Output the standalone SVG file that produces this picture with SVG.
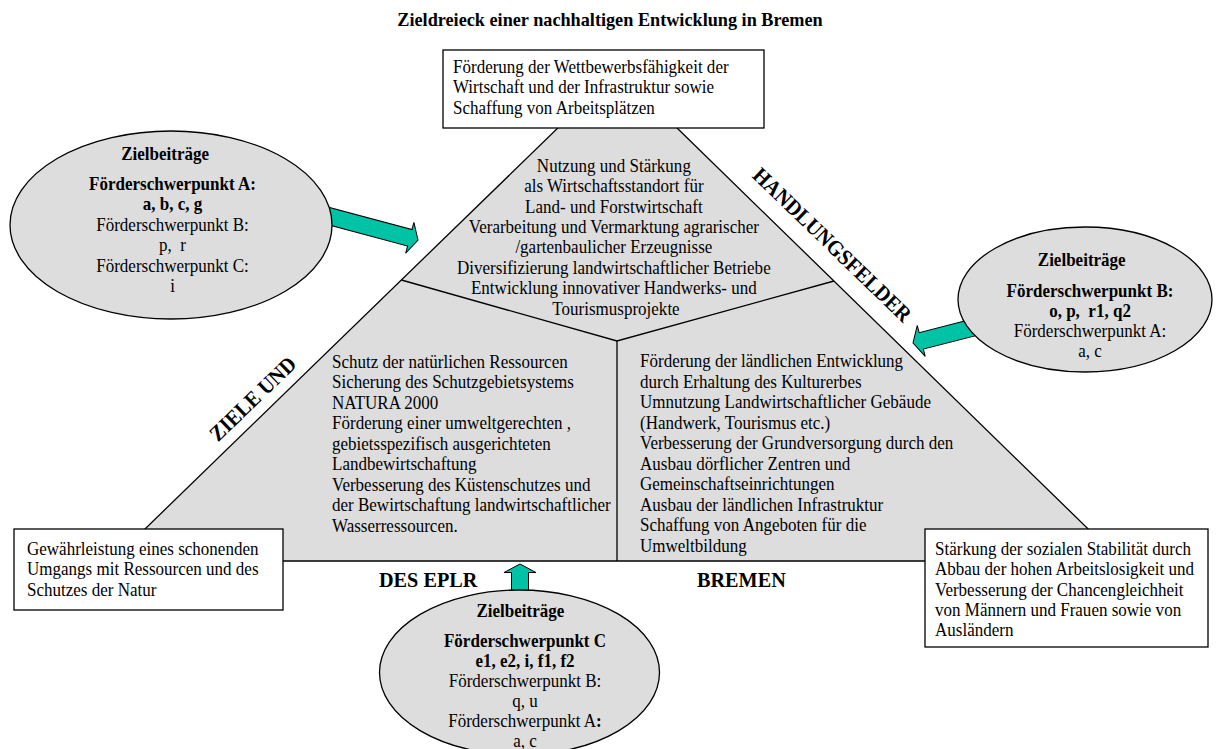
<svg xmlns="http://www.w3.org/2000/svg" width="1216" height="749" viewBox="0 0 1216 749">
  <style>
    .t { font-family: "Liberation Serif", "Times New Roman", serif; font-size: 18.5px; fill: #000; }
    .b { font-weight: bold; }
    .c { text-anchor: middle; }
    .lbl { font-family: "Liberation Serif", "Times New Roman", serif; font-size: 22px; font-weight: bold; fill: #000; }
    .ttl { font-family: "Liberation Serif", "Times New Roman", serif; font-size: 19.8px; font-weight: bold; fill: #000; text-anchor: middle; }
    .shape { fill: #dddddd; stroke: #000; stroke-width: 1.3; }
    .box { fill: #fff; stroke: #000; stroke-width: 1.3; }
    .line { fill: none; stroke: #000; stroke-width: 1.3; }
    .arrow { fill: #00c3a5; stroke: #000; stroke-width: 1; }
  </style>
  <defs>
    <!-- block arrow, tip at origin, pointing along +x -->
    <polygon id="blockArrow" points="0,0 -8.5,-16 -8.5,-8.5 -100,-8.5 -100,8.5 -8.5,8.5 -8.5,16"/>
  </defs>

  <rect width="1216" height="749" fill="#fff"/>

  <!-- title -->
  <g transform="translate(610,26) scale(0.92,1)">
    <text class="ttl" x="0" y="0">Zieldreieck einer nachhaltigen Entwicklung in Bremen</text>
  </g>

  <!-- target triangle with its three fields -->
  <g id="triangle">
    <polygon class="shape" points="617.6,70 112,561 1121,561"/>
    <polyline class="line" points="401.4,280 617,341 834,281"/>
    <line class="line" x1="617" y1="341" x2="617" y2="561"/>
  </g>

  <g id="field-economy">
    <g transform="translate(616,172) scale(0.92,1)">
      <text class="t c">
        <tspan x="0" y="0">Nutzung und Stärkung</tspan>
        <tspan x="0" dy="20.36">als Wirtschaftsstandort für</tspan>
        <tspan x="0" dy="20.36">Land- und Forstwirtschaft</tspan>
        <tspan x="0" dy="20.36">Verarbeitung und Vermarktung agrarischer</tspan>
        <tspan x="0" dy="20.36">/gartenbaulicher Erzeugnisse</tspan>
        <tspan x="0" dy="20.36">Diversifizierung landwirtschaftlicher Betriebe</tspan>
        <tspan x="0" dy="20.36">Entwicklung innovativer Handwerks- und</tspan>
        <tspan x="0" dy="20.36">Tourismusprojekte</tspan>
      </text>
    </g>
  </g>

  <g id="field-environment">
    <g transform="translate(332,368) scale(0.92,1)">
      <text class="t">
        <tspan x="0" y="0">Schutz der natürlichen Ressourcen</tspan>
        <tspan x="0" dy="20.5">Sicherung des Schutzgebietsystems</tspan>
        <tspan x="0" dy="20.5">NATURA 2000</tspan>
        <tspan x="0" dy="20.5">Förderung einer umweltgerechten ,</tspan>
        <tspan x="0" dy="20.5">gebietsspezifisch ausgerichteten</tspan>
        <tspan x="0" dy="20.5">Landbewirtschaftung</tspan>
        <tspan x="0" dy="20.5">Verbesserung des Küstenschutzes und</tspan>
        <tspan x="0" dy="20.5">der Bewirtschaftung landwirtschaftlicher</tspan>
        <tspan x="0" dy="20.5">Wasserressourcen.</tspan>
      </text>
    </g>
  </g>

  <g id="field-social">
    <g transform="translate(640,367) scale(0.92,1)">
      <text class="t">
        <tspan x="0" y="0">Förderung der ländlichen Entwicklung</tspan>
        <tspan x="0" dy="20.55">durch Erhaltung des Kulturerbes</tspan>
        <tspan x="0" dy="20.55">Umnutzung Landwirtschaftlicher Gebäude</tspan>
        <tspan x="0" dy="20.55">(Handwerk, Tourismus etc.)</tspan>
        <tspan x="0" dy="20.55">Verbesserung der Grundversorgung durch den</tspan>
        <tspan x="0" dy="20.55">Ausbau dörflicher Zentren und</tspan>
        <tspan x="0" dy="20.55">Gemeinschaftseinrichtungen</tspan>
        <tspan x="0" dy="20.55">Ausbau der ländlichen Infrastruktur</tspan>
        <tspan x="0" dy="20.55">Schaffung von Angeboten für die</tspan>
        <tspan x="0" dy="20.55">Umweltbildung</tspan>
      </text>
    </g>
  </g>

  <!-- side labels -->
  <g id="labels">
    <g transform="translate(832,245) rotate(44) scale(0.92,1)">
      <text class="lbl c" x="0" y="7">HANDLUNGSFELDER</text>
    </g>
    <g transform="translate(253,399) rotate(-44) scale(0.92,1)">
      <text class="lbl c" x="0" y="7">ZIELE UND</text>
    </g>
    <g transform="translate(379,587) scale(0.92,1)">
      <text class="lbl" x="0" y="0">DES EPLR</text>
    </g>
    <g transform="translate(697,587) scale(0.92,1)">
      <text class="lbl" x="0" y="0">BREMEN</text>
    </g>
  </g>

  <!-- goal boxes at the corners -->
  <g id="goal-economy">
    <rect class="box" x="443" y="50" width="321" height="78"/>
    <g transform="translate(453,73) scale(0.92,1)">
      <text class="t">
        <tspan x="0" y="0">Förderung der Wettbewerbsfähigkeit der</tspan>
        <tspan x="0" dy="20.5">Wirtschaft und der Infrastruktur sowie</tspan>
        <tspan x="0" dy="20.5">Schaffung von Arbeitsplätzen</tspan>
      </text>
    </g>
  </g>

  <g id="goal-environment">
    <rect class="box" x="14" y="529" width="269" height="81"/>
    <g transform="translate(27,555) scale(0.92,1)">
      <text class="t">
        <tspan x="0" y="0">Gewährleistung eines schonenden</tspan>
        <tspan x="0" dy="20.5">Umgangs mit Ressourcen und des</tspan>
        <tspan x="0" dy="20.5">Schutzes der Natur</tspan>
      </text>
    </g>
  </g>

  <g id="goal-social">
    <rect class="box" x="925" y="529" width="283" height="118"/>
    <g transform="translate(935,555) scale(0.92,1)">
      <text class="t">
        <tspan x="0" y="0">Stärkung der sozialen Stabilität durch</tspan>
        <tspan x="0" dy="20.3">Abbau der hohen Arbeitslosigkeit und</tspan>
        <tspan x="0" dy="20.3">Verbesserung der Chancengleichheit</tspan>
        <tspan x="0" dy="20.3">von Männern und Frauen sowie von</tspan>
        <tspan x="0" dy="20.3">Ausländern</tspan>
      </text>
    </g>
  </g>

  <!-- connectors: block arrows from the contribution ellipses -->
  <g id="connectors">
    <use href="#blockArrow" class="arrow" transform="translate(418,240) rotate(15)"/>
    <use href="#blockArrow" class="arrow" transform="translate(913,343) rotate(165.6)"/>
    <use href="#blockArrow" class="arrow" transform="translate(520,564) rotate(-90)"/>
  </g>

  <!-- contribution ellipses -->
  <g id="contrib-a">
    <ellipse class="shape" cx="171" cy="225" rx="161" ry="94"/>
    <g transform="translate(172.5,0) scale(0.92,1)">
      <text class="t c" xml:space="preserve"><tspan class="b" x="-8" y="160">Zielbeiträge</tspan><tspan class="b" x="0" y="190">Förderschwerpunkt A:</tspan><tspan class="b" x="0" y="210.5">a, b, c, g</tspan><tspan x="0" y="231">Förderschwerpunkt B:</tspan><tspan x="0" y="251.5">p,  r</tspan><tspan x="0" y="272">Förderschwerpunkt C:</tspan><tspan x="0" y="292.5">i</tspan></text>
    </g>
  </g>

  <g id="contrib-b">
    <ellipse class="shape" cx="1085" cy="299.5" rx="127" ry="72.5"/>
    <g transform="translate(1090,0) scale(0.92,1)">
      <text class="t c" xml:space="preserve"><tspan class="b" x="-9" y="266">Zielbeiträge</tspan><tspan class="b" x="0" y="297">Förderschwerpunkt B:</tspan><tspan class="b" x="0" y="317">o, p,  r1, q2</tspan><tspan x="0" y="337">Förderschwerpunkt A:</tspan><tspan x="0" y="357">a, c</tspan></text>
    </g>
  </g>

  <g id="contrib-c">
    <ellipse class="shape" cx="519.5" cy="672.5" rx="140" ry="82.5"/>
    <g transform="translate(525,0) scale(0.92,1)">
      <text class="t c" xml:space="preserve"><tspan class="b" x="-5" y="617">Zielbeiträge</tspan><tspan class="b" x="0" y="647">Förderschwerpunkt C</tspan><tspan class="b" x="0" y="667">e1, e2, i, f1, f2</tspan><tspan x="0" y="687">Förderschwerpunkt B:</tspan><tspan x="0" y="707">q, u</tspan><tspan x="0" y="727">Förderschwerpunkt A<tspan class="b">:</tspan></tspan><tspan x="0" y="747">a, c</tspan></text>
    </g>
  </g>
</svg>
